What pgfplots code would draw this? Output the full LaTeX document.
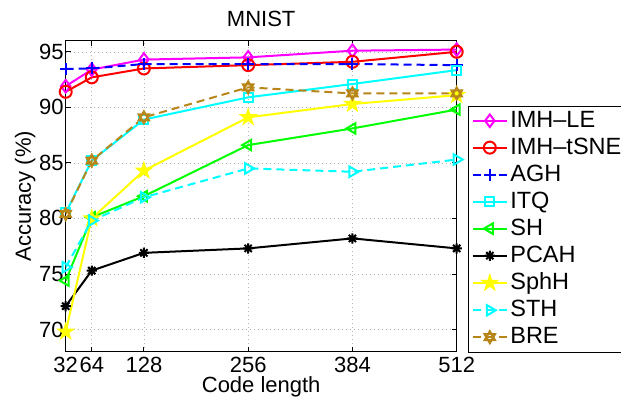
\documentclass[border=0pt]{standalone}
\usepackage{fontspec}
\setmainfont{Liberation Sans}
\usepackage{pgfplots}
\pgfplotsset{compat=1.18}
\definecolor{brownc}{rgb}{0.72,0.52,0.10}
\definecolor{mag}{rgb}{1,0,1}
\definecolor{cyn}{rgb}{0,1,1}
\definecolor{grn}{rgb}{0,1,0}
\definecolor{yel}{rgb}{1,1,0}

\pgfdeclareplotmark{pentagram}{%
  \pgfpathmoveto{\pgfpointpolar{90}{\pgfplotmarksize}}%
  \pgfpathlineto{\pgfpointpolar{126}{0.382\pgfplotmarksize}}%
  \pgfpathlineto{\pgfpointpolar{162}{\pgfplotmarksize}}%
  \pgfpathlineto{\pgfpointpolar{198}{0.382\pgfplotmarksize}}%
  \pgfpathlineto{\pgfpointpolar{234}{\pgfplotmarksize}}%
  \pgfpathlineto{\pgfpointpolar{270}{0.382\pgfplotmarksize}}%
  \pgfpathlineto{\pgfpointpolar{306}{\pgfplotmarksize}}%
  \pgfpathlineto{\pgfpointpolar{342}{0.382\pgfplotmarksize}}%
  \pgfpathlineto{\pgfpointpolar{18}{\pgfplotmarksize}}%
  \pgfpathlineto{\pgfpointpolar{54}{0.382\pgfplotmarksize}}%
  \pgfpathclose
  \pgfusepathqfillstroke
}
\pgfdeclareplotmark{hexagram}{%
  \pgfpathmoveto{\pgfpointpolar{90}{\pgfplotmarksize}}%
  \pgfpathlineto{\pgfpointpolar{210}{\pgfplotmarksize}}%
  \pgfpathlineto{\pgfpointpolar{330}{\pgfplotmarksize}}%
  \pgfpathclose
  \pgfpathmoveto{\pgfpointpolar{270}{\pgfplotmarksize}}%
  \pgfpathlineto{\pgfpointpolar{30}{\pgfplotmarksize}}%
  \pgfpathlineto{\pgfpointpolar{150}{\pgfplotmarksize}}%
  \pgfpathclose
  \pgfusepathqstroke
}
\pgfdeclareplotmark{star8}{%
  \pgfpathmoveto{\pgfpointpolar{0}{\pgfplotmarksize}}\pgfpathlineto{\pgfpointpolar{180}{\pgfplotmarksize}}%
  \pgfpathmoveto{\pgfpointpolar{90}{\pgfplotmarksize}}\pgfpathlineto{\pgfpointpolar{270}{\pgfplotmarksize}}%
  \pgfpathmoveto{\pgfpointpolar{45}{\pgfplotmarksize}}\pgfpathlineto{\pgfpointpolar{225}{\pgfplotmarksize}}%
  \pgfpathmoveto{\pgfpointpolar{135}{\pgfplotmarksize}}\pgfpathlineto{\pgfpointpolar{315}{\pgfplotmarksize}}%
  \pgfusepathqstroke
}

\begin{document}
\fontsize{22bp}{26bp}\selectfont
\begin{tikzpicture}
\useasboundingbox (-65.7bp,-52.3bp) rectangle (555.3bp,351.7bp);
\begin{axis}[
  at={(0,0)}, anchor=south west,
  scale only axis, width=391bp, height=311bp,
  xmin=32, xmax=512, ymin=68, ymax=96,
  xtick={32,64,128,256,384,512},
  ytick={70,75,80,85,90,95},
  grid=major,
  grid style={gray!60, line width=0.6bp, dash pattern=on 1bp off 3bp},
  tick align=inside, major tick length=5bp,
  tick style={black, line width=0.8bp},
  axis line style={black, line width=1.3bp},
  every tick label/.style={font=\fontsize{22bp}{26bp}\selectfont},
  /pgf/number format/assume math mode=true,
  /pgf/number format/1000 sep={},
  xticklabel style={inner sep=2bp, yshift=-3bp},
  yticklabel style={inner sep=2bp},
  title={MNIST},
  title style={font=\fontsize{22bp}{26bp}\selectfont, yshift=0bp},
  xlabel={Code length},
  ylabel={Accuracy (\%)},
  label style={font=\fontsize{22bp}{26bp}\selectfont},
  xlabel style={yshift=5bp},
  ylabel style={yshift=-6bp},
  legend cell align=left,
  legend style={at={(1.03,-0.002)}, anchor=south west, draw=black, line width=0.8bp,
    font=\fontsize{23.5bp}{23.5bp}\selectfont, inner xsep=3bp, inner ysep=2.5bp,
    nodes={inner sep=2.5bp}, row sep=2.3bp},
  legend image code/.code={\draw[mark repeat=2,mark phase=2,#1] plot coordinates {(0bp,0bp)(17bp,0bp)(34bp,0bp)};},
  every axis plot/.append style={line width=2bp},
  mark size=6bp,
]
\addplot[color=mag, mark=diamond, mark options={solid, scale=1.05}] coordinates {
 (32,91.9) (64,93.4) (128,94.3) (256,94.5) (384,95.1) (512,95.2)};
\addlegendentry{IMH\textendash LE}
\addplot[color=red, mark=o, mark options={solid}] coordinates {
 (32,91.4) (64,92.7) (128,93.5) (256,93.8) (384,94.1) (512,95.0)};
\addlegendentry{IMH\textendash tSNE}
\addplot[color=blue, dash pattern=on 8bp off 5bp, mark=+, mark options={solid}] coordinates {
 (32,93.45) (64,93.5) (128,93.9) (256,93.9) (384,93.9) (512,93.8)};
\addlegendentry{AGH}
\addplot[color=cyn, mark=square, mark options={solid, scale=0.75}] coordinates {
 (32,80.5) (64,85.2) (128,88.9) (256,90.9) (384,92.1) (512,93.35)};
\addlegendentry{ITQ}
\addplot[color=grn, mark=triangle, mark options={solid, rotate=90}] coordinates {
 (32,74.4) (64,80.1) (128,82.0) (256,86.6) (384,88.1) (512,89.8)};
\addlegendentry{SH}
\addplot[color=black, mark=star8, mark options={solid, scale=0.85}] coordinates {
 (32,72.1) (64,75.3) (128,76.9) (256,77.3) (384,78.2) (512,77.3)};
\addlegendentry{PCAH}
\addplot[color=yel, mark=pentagram, mark options={solid, fill=yel, scale=1.15}] coordinates {
 (32,69.8) (64,80.0) (128,84.3) (256,89.1) (384,90.3) (512,91.1)};
\addlegendentry{SphH}
\addplot[color=cyn, dash pattern=on 8bp off 5bp, mark=triangle, mark options={solid, rotate=-90}] coordinates {
 (32,75.6) (64,79.8) (128,81.9) (256,84.5) (384,84.2) (512,85.3)};
\addlegendentry{STH}
\addplot[color=brownc, dash pattern=on 8bp off 5bp, mark=hexagram, mark options={solid}] coordinates {
 (32,80.4) (64,85.2) (128,89.1) (256,91.8) (384,91.25) (512,91.25)};
\addlegendentry{BRE}
\end{axis}
\end{tikzpicture}
\end{document}
